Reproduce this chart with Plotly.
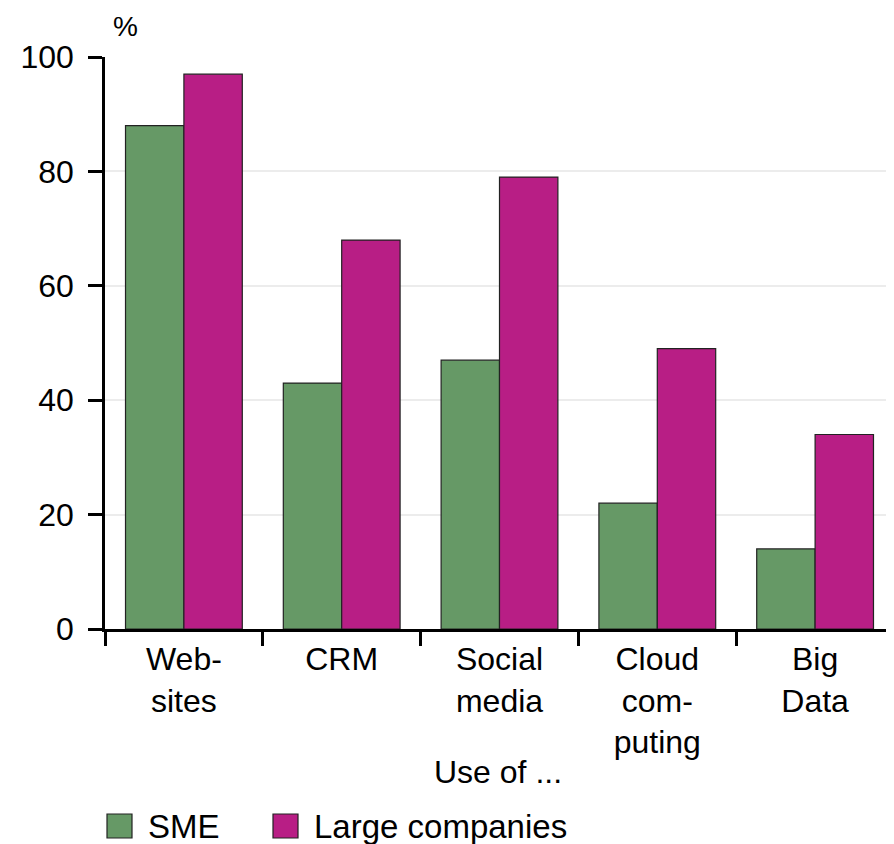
import plotly.graph_objects as go

categories = ["Web-<br>sites", "CRM", "Social<br>media", "Cloud<br>com-<br>puting", "Big<br>Data"]
sme = [88, 43, 47, 22, 14]
large = [97, 68, 79, 49, 34]
series_names = ["SME", "Large companies"]
y_ticks = [0, 20, 40, 60, 80, 100]

GREEN = "#669966"
MAGENTA = "#b81e85"
FONT = "Liberation Sans"
FS = 32

OFF = 8  # page body margin offset
W, H = 894 - OFF, 844 - OFF
L, R, T, B = 105 - OFF, 0, 57 - OFF, 844 - 629
PW, PH = W - L - R, H - T - B


def px(x):
    # reference page pixel -> paper fraction
    return (x - OFF - L) / PW


def py(y):
    return (T + PH - (y - OFF)) / PH


fig = go.Figure()
fig.add_trace(go.Bar(x=categories, y=sme, name=series_names[0], marker=dict(color=GREEN, line=dict(color="#222222", width=1.2)), showlegend=False))
fig.add_trace(go.Bar(x=categories, y=large, name=series_names[1], marker=dict(color=MAGENTA, line=dict(color="#222222", width=1.2)), showlegend=False))

shapes = []
annotations = []
# manual legend
legend_items = [(107, GREEN, series_names[0], 146), (273, MAGENTA, series_names[1], 312)]
for x0, col, name, tx in legend_items:
    shapes.append(dict(type="rect", xref="paper", yref="paper", x0=px(x0), x1=px(x0 + 25), y0=py(838), y1=py(814),
                       fillcolor=col, line=dict(color="#222222", width=1.2)))
    annotations.append(dict(text=name, xref="paper", yref="paper", x=px(tx), y=py(826), xanchor="left", yanchor="middle",
                            showarrow=False, font=dict(family=FONT, size=33, color="black")))

annotations.append(dict(text="%", xref="paper", yref="paper", x=px(125), y=py(26), xanchor="center", yanchor="middle",
                        showarrow=False, font=dict(family=FONT, size=28, color="black")))
annotations.append(dict(text="Use of ...", xref="paper", yref="paper", x=px(498), y=py(772), xanchor="center", yanchor="middle",
                        showarrow=False, font=dict(family=FONT, size=FS, color="black")))

fig.update_layout(
    width=W, height=H,
    margin=dict(l=L, r=R, t=T, b=B, pad=0),
    paper_bgcolor="white", plot_bgcolor="white",
    barmode="group", bargap=0.26, bargroupgap=0,
    font=dict(family=FONT, size=FS, color="black"),
    shapes=shapes, annotations=annotations,
    showlegend=False,
)
fig.update_xaxes(
    type="category", tickson="boundaries", ticks="outside", ticklen=14, tickwidth=2.5, tickcolor="black",
    showline=True, linecolor="black", linewidth=2.5, showgrid=False,
    tickfont=dict(family=FONT, size=FS, color="black"), fixedrange=True,
)
fig.update_yaxes(
    range=[0, 100], tickvals=y_ticks, ticks="outside", ticklen=14, tickwidth=2.5, tickcolor="black",
    showline=True, linecolor="black", linewidth=2.5,
    showgrid=True, gridcolor="#ececec", gridwidth=1.5, zeroline=False,
    tickfont=dict(family=FONT, size=FS, color="black"), ticklabelstandoff=8, fixedrange=True,
)

fig.write_html("out.html")
